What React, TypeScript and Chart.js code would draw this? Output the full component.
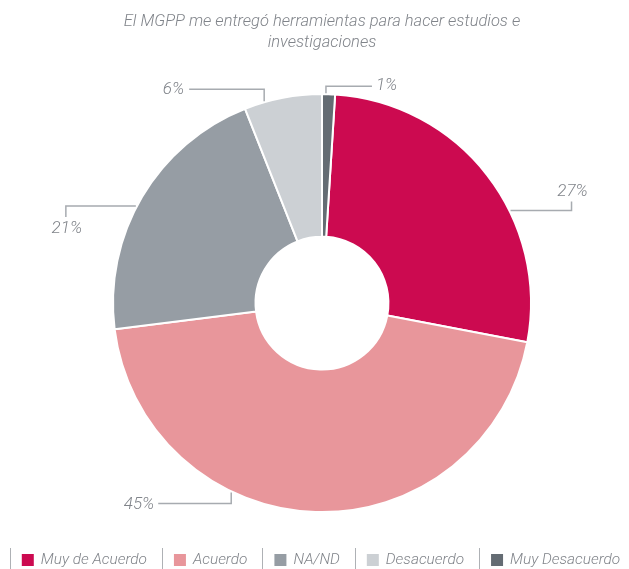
import React, { useEffect, useRef } from 'react';
import { Chart, registerables } from 'chart.js';

Chart.register(...registerables);

// ---- data ----
const titleLines = ['El MGPP me entregó herramientas para hacer estudios e', 'investigaciones'];
const categories = ['Muy de Acuerdo', 'Acuerdo', 'NA/ND', 'Desacuerdo', 'Muy Desacuerdo'];
const values = [27, 45, 21, 6, 1];
const valueLabels = ['27%', '45%', '21%', '6%', '1%'];
const colors = ['#CC0A50', '#E8969B', '#969DA4', '#CCD0D4', '#646C73'];

// ---- styles ----
const FONT = 'Roboto, "Liberation Sans", Arial, sans-serif';
const TEXT_COLOR = '#80848a';
const LINE_COLOR = '#a7abb0';

// leader line layout per slice: f = position along arc; segs = relative moves; text offset/align
const leaders = [
  { f: 0.62, segs: [[61, 0], [0, -9]], tx: 1, ty: -10, align: 'center' },
  { f: 0.647, segs: [[0, 11], [-73, 0]], tx: -4, ty: 1, align: 'right' },
  { f: 0.46, segs: [[-70, 0], [0, 11]], tx: 1, ty: 12, align: 'center' },
  { f: 0.26, segs: [[0, -12], [-75, 0]], tx: -5, ty: 1, align: 'right' },
  { f: 0.3, segs: [[0, -7], [46, 0]], tx: 4, ty: 0, align: 'left' },
];

const leaderPlugin = {
  id: 'leaderLabels',
  afterDatasetsDraw(chart: any) {
    const ctx = chart.ctx;
    const meta = chart.getDatasetMeta(0);
    ctx.save();
    meta.data.forEach((arc: any, i: number) => {
      const p = arc.getProps(['x', 'y', 'startAngle', 'endAngle', 'outerRadius'], true);
      const L = leaders[i];
      const a = p.startAngle + L.f * (p.endAngle - p.startAngle);
      let x = p.x + (p.outerRadius + 1) * Math.cos(a);
      let y = p.y + (p.outerRadius + 1) * Math.sin(a);
      ctx.beginPath();
      ctx.strokeStyle = LINE_COLOR;
      ctx.lineWidth = 1.5;
      ctx.moveTo(x, y);
      L.segs.forEach(([dx, dy]) => {
        x += dx;
        y += dy;
        ctx.lineTo(x, y);
      });
      ctx.stroke();
      ctx.fillStyle = TEXT_COLOR;
      ctx.font = `italic 300 17px ${FONT}`;
      ctx.textAlign = L.align;
      ctx.textBaseline = 'middle';
      ctx.fillText(valueLabels[i], x + L.tx, y + L.ty);
    });
    ctx.restore();
  },
};

const legendPlugin = {
  id: 'sepLegend',
  afterDraw(chart: any) {
    const ctx = chart.ctx;
    const box = 12;
    const textGap = 7;
    const gap = 27;
    const cy = 560;
    ctx.save();
    ctx.font = `italic 300 15.4px ${FONT}`;
    const widths = categories.map((c) => box + textGap + ctx.measureText(c).width);
    const total = widths.reduce((s, w) => s + w, 0) + gap * (categories.length - 1);
    let x = 321 - total / 2;
    ctx.strokeStyle = '#aeb1b5';
    ctx.lineWidth = 1;
    ctx.textBaseline = 'middle';
    ctx.textAlign = 'left';
    categories.forEach((c, i) => {
      ctx.beginPath();
      ctx.moveTo(Math.round(x - 12) + 0.5, 548);
      ctx.lineTo(Math.round(x - 12) + 0.5, 569);
      ctx.stroke();
      ctx.fillStyle = colors[i];
      ctx.fillRect(x, cy - 6, box, box);
      ctx.fillStyle = TEXT_COLOR;
      ctx.fillText(c, x + box + textGap, cy);
      x += widths[i] + gap;
    });
    const end = x - gap + 9;
    ctx.beginPath();
    ctx.moveTo(Math.round(end) + 0.5, 548);
    ctx.lineTo(Math.round(end) + 0.5, 569);
    ctx.stroke();
    ctx.restore();
  },
};

export default function App() {
  const ref = useRef<HTMLCanvasElement | null>(null);
  useEffect(() => {
    if (!ref.current) return;
    const chart = new Chart(ref.current, {
      type: 'doughnut',
      data: {
        labels: categories,
        datasets: [
          {
            data: values,
            backgroundColor: colors,
            borderColor: '#ffffff',
            borderWidth: 2,
          },
        ],
      },
      options: {
        animation: false,
        responsive: true,
        maintainAspectRatio: false,
        rotation: 3.6,
        radius: 209,
        cutout: '31.8%',
        layout: { padding: { left: 15, top: 0, bottom: 36, right: 0 } },
        events: [],
        plugins: {
          legend: { display: false },
          tooltip: { enabled: false },
          title: {
            display: true,
            text: titleLines,
            color: TEXT_COLOR,
            font: { family: FONT, size: 16.5, style: 'italic', weight: '300', lineHeight: 1.28 },
            padding: { top: 11, bottom: 20 },
          },
        },
      },
      plugins: [leaderPlugin, legendPlugin],
    } as any);
    return () => chart.destroy();
  }, []);
  return (
    <div style={{ position: 'absolute', left: 0, top: 0, width: 629, height: 569 }}>
      <canvas ref={ref} />
    </div>
  );
}
